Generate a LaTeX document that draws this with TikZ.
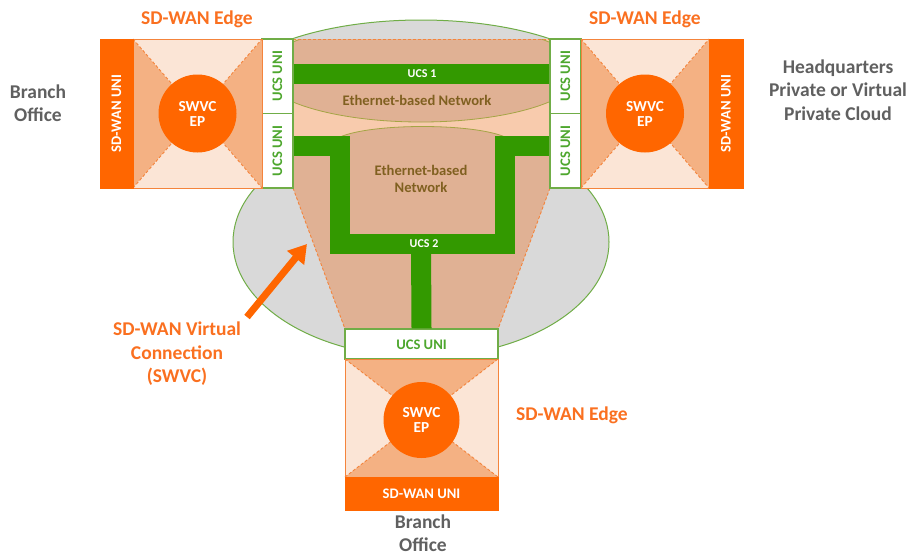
\documentclass[tikz,border=0pt]{standalone}
\usepackage{fontspec}
\setmainfont{Carlito}
\usetikzlibrary{arrows.meta}

\definecolor{cloudgrey}{HTML}{D9D9D9}
\definecolor{cloudline}{HTML}{70AD47}
\definecolor{netpeach}{HTML}{F8CBAD}
\definecolor{nettan}{HTML}{E0B194}
\definecolor{netline}{HTML}{A5A545}
\definecolor{envlight}{HTML}{FBE5D6}
\definecolor{envdark}{HTML}{F4B183}
\definecolor{edgeorange}{HTML}{FF6600}
\definecolor{textorange}{HTML}{FA7020}
\definecolor{pipegreen}{HTML}{339900}
\definecolor{unigreen}{HTML}{4EA72E}
\definecolor{uniborder}{HTML}{70AD47}
\definecolor{ethtext}{HTML}{806020}
\definecolor{labelgrey}{HTML}{606060}
\definecolor{dashorange}{HTML}{F4843C}

\newcommand{\fsbig}{\fontsize{19.5}{23.5}\selectfont\bfseries}
\newcommand{\fsmid}{\fontsize{14.6}{17.5}\selectfont\bfseries}
\newcommand{\fsep}{\fontsize{15.3}{15}\selectfont\bfseries}
\newcommand{\fssmall}{\fontsize{12}{14}\selectfont\bfseries}

% envelope of an SD-WAN edge: corners (#1,#2) and (#3,#4);
% #5 colours the left/right triangles, #6 the top/bottom ones
\newcommand{\swenv}[6]{%
  \fill[#5] (#1,#2) -- (#1,#4) -- ({(#1+#3)/2},{(#2+#4)/2}) -- cycle;
  \fill[#5] (#3,#2) -- (#3,#4) -- ({(#1+#3)/2},{(#2+#4)/2}) -- cycle;
  \fill[#6] (#1,#2) -- (#3,#2) -- ({(#1+#3)/2},{(#2+#4)/2}) -- cycle;
  \fill[#6] (#1,#4) -- (#3,#4) -- ({(#1+#3)/2},{(#2+#4)/2}) -- cycle;
  \draw[orangedash] (#1,#2) -- (#3,#4) (#1,#4) -- (#3,#2);
  \draw[envborder] (#1,#2) rectangle (#3,#4);
}

\begin{document}
\begin{tikzpicture}[x=1pt,y=-1pt,
  every node/.style={inner sep=0pt, align=center},
  orangedash/.style={draw=dashorange, line width=0.9pt, dash pattern=on 3pt off 2pt},
  envborder/.style={draw=dashorange, line width=0.8pt},
  pipe/.style={draw=pipegreen, line width=20pt, line join=miter},
  unibox/.style={draw=uniborder, line width=1.2pt, fill=white},
  unitext/.style={text=unigreen, font=\fsmid},
  sdbar/.style={fill=edgeorange, draw=edgeorange, line width=0.5pt},
  bartext/.style={text=white, font=\fsmid},
  epcircle/.style={circle, fill=edgeorange, minimum size=78pt, text=white, font=\fsep},
  edgelabel/.style={text=textorange, font=\fsbig},
  sitelabel/.style={text=labelgrey, font=\fsbig},
  ethlabel/.style={text=ethtext, font=\fsmid},
  ucslabel/.style={text=white, font=\fssmall},
  swvcarrow/.style={draw=edgeorange, line width=7pt, -{Triangle[length=18pt,width=21pt]}}
]
\useasboundingbox (0,0) rectangle (909,555);

% carrier clouds
\filldraw[fill=cloudgrey, draw=cloudline, line width=1pt] (421,100) ellipse [x radius=200pt, y radius=80pt];
\filldraw[fill=cloudgrey, draw=cloudline, line width=1pt] (421,242) ellipse [x radius=188pt, y radius=115pt];

% virtual connection region
\fill[netpeach] (293,39) rectangle (550,188);
\begin{scope}
  \clip (293,39) rectangle (550,188);
  \filldraw[fill=nettan, draw=netline, line width=0.8pt] (421,72) ellipse [x radius=160pt, y radius=50pt];
\end{scope}
\fill[nettan] (293,146) -- (340,146) -- (340,137)
  .. controls (372,123) and (473,123) .. (505,137)
  -- (505,146) -- (550,146) -- (550,188) -- (498,329) -- (345,329) -- (293,188) -- cycle;
\draw[netline, line width=0.8pt] (340,137) .. controls (372,123) and (473,123) .. (505,137);
\draw[orangedash] (293,39) -- (550,39);
\draw[orangedash] (293,188) -- (345,329);
\draw[orangedash] (550,188) -- (498,329);

% UCS UNI boxes
\node[unibox, minimum width=31pt, minimum height=74.5pt] (luniA) at (277.5,76.25) {};
\node[unibox, minimum width=31pt, minimum height=74.5pt] (luniB) at (277.5,150.75) {};
\node[unibox, minimum width=31pt, minimum height=74.5pt] (runiA) at (565.5,76.25) {};
\node[unibox, minimum width=31pt, minimum height=74.5pt] (runiB) at (565.5,150.75) {};
\node[unibox, minimum width=153pt, minimum height=30pt] (buni) at (421.5,344) {};
\node[unitext, rotate=90] (luniAt) at (luniA.center) {UCS UNI};
\node[unitext, rotate=90] (luniBt) at (luniB.center) {UCS UNI};
\node[unitext, rotate=90] (runiAt) at (runiA.center) {UCS UNI};
\node[unitext, rotate=90] (runiBt) at (runiB.center) {UCS UNI};
\node[unitext] (bunit) at (421.5,345) {UCS UNI};

% UCS services
\coordinate (ucs2left) at (340,244);
\coordinate (ucs2mid) at (421,244);
\coordinate (ucs2right) at (505,244);
\draw[pipe] ([yshift=2.75pt]luniA.east) -- ([yshift=2.75pt]runiA.west);
\draw[pipe] ([yshift=4.75pt]luniB.east) -| (ucs2left) -- (ucs2right) |- ([yshift=4.75pt]runiB.west);
\draw[pipe] (ucs2mid) -- (buni.north);
\node[ucslabel] (ucs1) at (422,73.5) {UCS 1};
\node[ucslabel] (ucs2) at (424,244) {UCS 2};
\node[ethlabel] (eth1) at (417,100) {Ethernet-based Network};
\node[ethlabel] (eth2) at (421,179) {Ethernet-based\\Network};

% left SD-WAN edge
\swenv{133}{39}{262}{188}{envdark}{envlight}
\node[sdbar, minimum width=33pt, minimum height=149pt] (lbar) at (116.5,113.5) {};
\node[bartext, rotate=90] (lbart) at (lbar.center) {SD-WAN UNI};
\node[epcircle] (lep) at (197.5,113.5) {SWVC\\EP};

% right SD-WAN edge
\swenv{581}{39}{709}{188}{envdark}{envlight}
\node[sdbar, minimum width=34pt, minimum height=149pt] (rbar) at (726,113.5) {};
\node[bartext, rotate=90] (rbart) at (rbar.center) {SD-WAN UNI};
\node[epcircle] (rep) at (645,113.5) {SWVC\\EP};

% bottom SD-WAN edge
\swenv{345}{359}{498}{477}{envlight}{envdark}
\node[sdbar, minimum width=153pt, minimum height=33pt] (bbar) at (421.5,493.5) {};
\node[bartext] (bbart) at (bbar.center) {SD-WAN UNI};
\node[epcircle, minimum size=76pt] (bep) at (421.5,420) {SWVC\\EP};

% labels
\node[edgelabel] (ledge) at (197,19) {SD-WAN Edge};
\node[edgelabel] (redge) at (645,19) {SD-WAN Edge};
\node[edgelabel] (bedge) at (572,415) {SD-WAN Edge};
\node[sitelabel] (lsite) at (38,103) {Branch\\Office};
\node[sitelabel] (rsite) at (838,90) {Headquarters\\Private or Virtual\\Private Cloud};
\node[sitelabel] (bsite) at (423,533) {Branch\\Office};
\node[edgelabel] (swvc) at (177,354) {SD-WAN Virtual\\Connection\\(SWVC)};

% pointer to the virtual connection
\coordinate (arrowtail) at (247,317);
\coordinate (arrowtip) at (307,244);
\draw[swvcarrow] (arrowtail) -- (arrowtip);
\end{tikzpicture}
\end{document}
